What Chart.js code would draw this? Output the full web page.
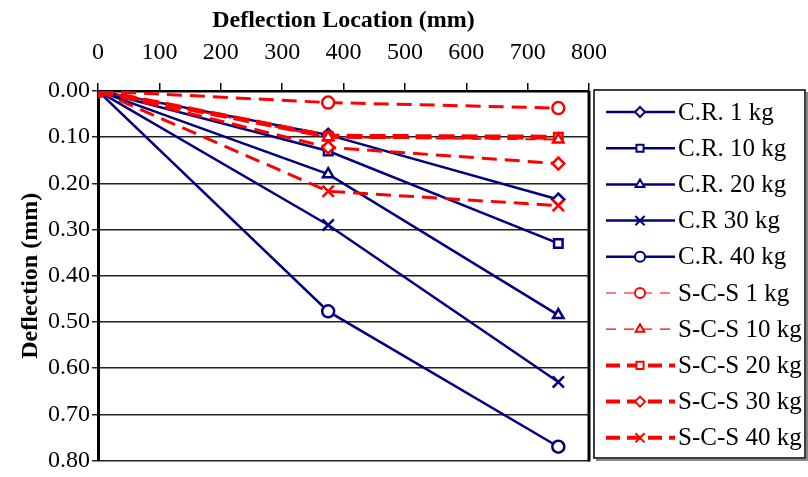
<!DOCTYPE html>
<html>
<head>
<meta charset="utf-8">
<script src="https://cdn.jsdelivr.net/npm/chart.js@4/dist/chart.umd.min.js"></script>
<style>
  body { margin: 0; background: #fff; }
  #wrap { width: 808px; height: 477px; }
</style>
</head>
<body>
<div id="wrap"><canvas id="deflectionChart" width="808" height="477"></canvas></div>
<script>
// 量測位置 (mm)
const locations = [0, 375, 750];
const xTicks = [0, 100, 200, 300, 400, 500, 600, 700, 800];
const yTicks = [0, 0.1, 0.2, 0.3, 0.4, 0.5, 0.6, 0.7, 0.8];

// C.R. 系列
const cr1 = [0, 0.095, 0.235];
const cr10 = [0, 0.13, 0.33];
const cr20 = [0, 0.18, 0.485];
const cr30 = [0, 0.29, 0.63];
const cr40 = [0, 0.477, 0.77];

// S-C-S 系列
const scs1 = [0, 0.025, 0.037];
const scs10 = [0, 0.10, 0.105];
const scs20 = [0, 0.098, 0.10];
const scs30 = [0, 0.122, 0.157];
const scs40 = [0, 0.217, 0.248];

const seriesNames = ['C.R. 1 kg', 'C.R. 10 kg', 'C.R. 20 kg', 'C.R 30 kg', 'C.R. 40 kg',
    'S-C-S 1 kg', 'S-C-S 10 kg', 'S-C-S 20 kg', 'S-C-S 30 kg', 'S-C-S 40 kg'];
const seriesValues = [cr1, cr10, cr20, cr30, cr40, scs1, scs10, scs20, scs30, scs40];

const BLUE = '#000080';
const RED = '#ff0000';
const markers = ['rectRot', 'rect', 'triangle', 'crossRot', 'circle', 'circle', 'triangle', 'rect', 'rectRot', 'crossRot'];
// 圖上線寬 vs 圖例線寬 (原圖兩者不一致)
const lineWidths = [2.5, 2.5, 2.5, 2.5, 2.5, 3, 2, 5, 3, 3];
const legendWidths = [2.5, 2.5, 2.5, 2.5, 2.5, 1.2, 1.2, 4, 4, 4];
const dashes = [[], [], [], [], [], [15, 8], [10, 8], [16, 7], [15, 8], [15, 8]];
const legendDashes = [[], [], [], [], [], [10, 8], [10, 8], [14, 7], [14, 7], [14, 7]];
const FONT = '"Liberation Serif", "Times New Roman", serif';

const datasets = seriesNames.map((name, i) => {
    const isRed = i >= 5;
    const color = isRed ? RED : BLUE;
    return {
        label: name,
        data: locations.map((x, j) => ({ x: x, y: seriesValues[i][j] })),
        borderColor: color,
        borderWidth: lineWidths[i],
        borderDash: dashes[i],
        pointStyle: markers[i],
        pointRadius: markers[i] === 'crossRot' ? 8 : 6,
        pointBorderWidth: 2.5,
        pointBorderColor: color,
        pointBackgroundColor: isRed ? [RED, '#fff', '#fff'] : '#fff',
        fill: false,
        tension: 0,
        order: isRed ? 0 : 1
    };
});

// 圖例 + 右邊框
const legendBox = {
    id: 'legendBox',
    afterDraw(chart) {
        const ctx = chart.ctx;
        const area = chart.chartArea;
        ctx.save();
        // plot right border
        ctx.strokeStyle = '#000';
        ctx.lineWidth = 3;
        ctx.beginPath();
        ctx.moveTo(area.right, area.top);
        ctx.lineTo(area.right, area.bottom + 1);
        ctx.stroke();

        // legend frame with shadow
        ctx.strokeStyle = '#888';
        ctx.lineWidth = 2;
        ctx.beginPath();
        ctx.moveTo(807, 92);
        ctx.lineTo(807, 460);
        ctx.lineTo(596, 460);
        ctx.stroke();
        ctx.strokeStyle = '#000';
        ctx.lineWidth = 1.5;
        ctx.strokeRect(594, 90, 211, 368);

        ctx.font = '25px ' + FONT;
        ctx.textBaseline = 'middle';
        ctx.textAlign = 'left';
        chart.data.datasets.forEach((ds, i) => {
            const y = 112 + i * 36.2;
            ctx.strokeStyle = ds.borderColor;
            ctx.lineWidth = legendWidths[i];
            ctx.setLineDash(legendDashes[i]);
            ctx.beginPath();
            ctx.moveTo(606, y);
            ctx.lineTo(675, y);
            ctx.stroke();
            ctx.setLineDash([]);
            ctx.fillStyle = '#fff';
            ctx.lineWidth = 2;
            Chart.helpers.drawPoint(ctx, {
                pointStyle: ds.pointStyle,
                radius: ds.pointStyle === 'crossRot' ? 6.5 : 5,
                borderWidth: 2,
                rotation: 0
            }, 640, y);
            ctx.fillStyle = '#000';
            ctx.fillText(ds.label, 678, y + 1);
        });
        ctx.restore();
    }
};

const ctx = document.getElementById('deflectionChart').getContext('2d');
const deflectionChart = new Chart(ctx, {
    type: 'line',
    data: { datasets: datasets },
    options: {
        responsive: false,
        animation: false,
        devicePixelRatio: 1,
        layout: { padding: { left: 16, top: 6, right: 219, bottom: 11 } },
        plugins: {
            legend: { display: false },
            tooltip: { enabled: false }
        },
        scales: {
            x: {
                type: 'linear',
                position: 'top',
                min: 0,
                max: 800,
                afterBuildTicks: (scale) => { scale.ticks = xTicks.map(v => ({ value: v })); },
                afterFit: (scale) => { scale.height = 85; },
                ticks: {
                    color: '#000',
                    font: { family: FONT, size: 24 },
                    padding: 16,
                    maxRotation: 0
                },
                grid: { drawOnChartArea: false, drawTicks: true, tickLength: 8, color: '#000', lineWidth: 1.5 },
                border: { color: '#000', width: 2.5 },
                title: {
                    display: true,
                    text: 'Deflection Location (mm)',
                    color: '#000',
                    font: { family: FONT, size: 24, weight: 'bold' },
                    padding: { top: 0, bottom: 2 }
                }
            },
            y: {
                type: 'linear',
                reverse: true,
                min: 0,
                max: 0.8,
                afterBuildTicks: (scale) => { scale.ticks = yTicks.map(v => ({ value: v })); },
                afterFit: (scale) => { scale.width = 82; },
                ticks: {
                    color: '#000',
                    font: { family: FONT, size: 24 },
                    padding: 2,
                    callback: (v) => Number(v).toFixed(2)
                },
                grid: { color: '#222', lineWidth: 1.5, tickLength: 6 },
                border: { color: '#000', width: 3 },
                title: {
                    display: true,
                    text: 'Deflection (mm)',
                    color: '#000',
                    font: { family: FONT, size: 24, weight: 'bold' },
                    padding: { top: 0, bottom: 0 }
                }
            }
        }
    },
    plugins: [legendBox]
});
</script>
</body>
</html>
